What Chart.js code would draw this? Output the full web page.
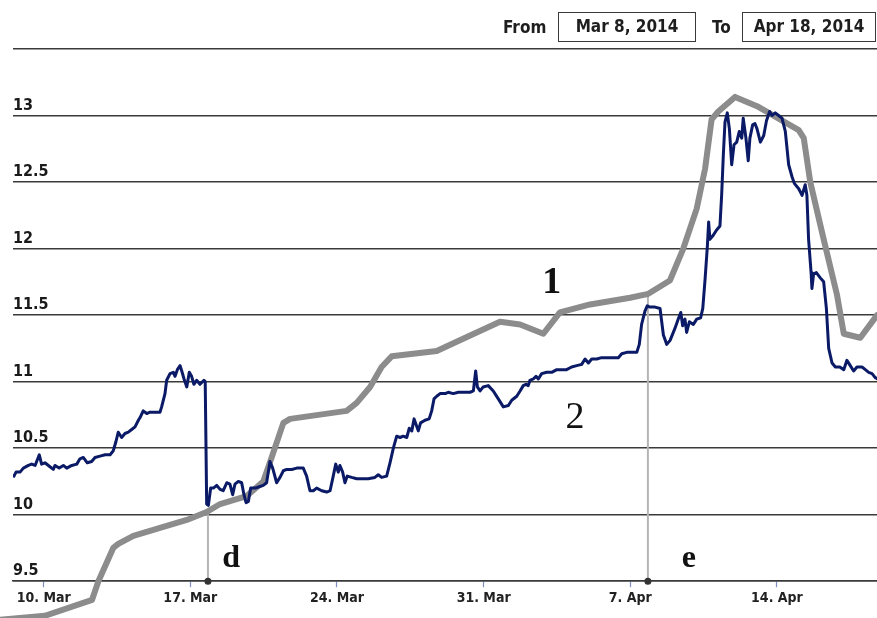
<!DOCTYPE html>
<html><head><meta charset="utf-8">
<script src="https://cdn.jsdelivr.net/npm/chart.js@4.4.1/dist/chart.umd.min.js"></script>
<style>
html,body{margin:0;padding:0;background:#fff;width:877px;height:618px;overflow:hidden}
#wrap{position:relative;width:877px;height:618px;overflow:hidden}
#c{position:absolute;left:0;top:0}
.hdr{position:absolute;font-family:'DejaVu Sans Condensed','DejaVu Sans',sans-serif;font-weight:bold;font-size:17px;color:#1e1e1e;line-height:28px;height:28px}
.box{border:1.5px solid #3a3a3a;box-sizing:border-box;text-align:center;height:30px;line-height:27px}
</style></head>
<body><div id="wrap">
<canvas id="c" width="881" height="618"></canvas>
<div class="hdr" style="left:503px;top:13px">From</div>
<div class="hdr box" style="left:558px;top:12px;width:138px">Mar 8, 2014</div>
<div class="hdr" style="left:712px;top:13px">To</div>
<div class="hdr box" style="left:742px;top:12px;width:134px">Apr 18, 2014</div>
</div>
<script>
// x values are days counted from 1 March 2014 (31 = 31 Mar, 38 = 7 Apr)
const tickDays = [10, 17, 24, 31, 38, 45];
const tickLabels = ['10. Mar', '17. Mar', '24. Mar', '31. Mar', '7. Apr', '14. Apr'];

const series2Days = [
  8.55,8.68,8.87,9.03,9.27,9.43,9.59,9.79,9.90,10.06,
  10.30,10.46,10.54,10.74,10.94,11.10,11.34,11.58,11.73,11.89,
  12.08,12.29,12.45,12.69,12.93,13.17,13.32,13.45,13.56,13.72,
  13.88,14.04,14.20,14.36,14.52,14.60,14.75,14.92,15.07,15.23,
  15.55,15.63,15.79,15.87,16.03,16.19,16.27,16.38,16.51,16.59,
  16.70,16.83,16.95,17.06,17.17,17.30,17.46,17.65,17.71,17.78,
  17.86,17.97,18.10,18.26,18.42,18.57,18.74,18.89,19.02,19.13,
  19.29,19.45,19.56,19.66,19.77,19.88,20.09,20.29,20.48,20.64,
  20.80,20.93,21.12,21.28,21.44,21.60,21.84,22.08,22.23,22.39,
  22.55,22.71,22.87,23.03,23.27,23.51,23.67,23.82,23.94,24.06,
  24.14,24.27,24.38,24.49,24.70,24.94,25.18,25.49,25.81,25.97,
  26.13,26.37,26.53,26.69,26.85,27.01,27.16,27.33,27.45,27.57,
  27.68,27.77,27.88,27.99,28.20,28.40,28.52,28.63,28.76,28.92,
  29.16,29.31,29.55,29.79,30.03,30.35,30.51,30.62,30.70,30.83,
  30.98,31.22,31.46,31.70,31.94,32.18,32.34,32.58,32.74,32.89,
  33.02,33.13,33.21,33.37,33.50,33.61,33.77,34.01,34.25,34.49,
  34.73,34.96,35.20,35.44,35.68,35.84,36.00,36.16,36.40,36.63,
  36.87,37.19,37.43,37.59,37.83,38.07,38.31,38.43,38.54,38.70,
  38.81,38.94,39.18,39.42,39.58,39.74,39.90,40.13,40.29,40.41,
  40.50,40.61,40.69,40.82,41.01,41.17,41.36,41.46,41.57,41.68,
  41.74,41.80,41.96,42.12,42.28,42.36,42.44,42.52,42.63,42.73,
  42.84,42.95,43.08,43.20,43.32,43.39,43.52,43.63,43.71,43.84,
  43.95,44.05,44.21,44.37,44.50,44.65,44.76,44.92,45.08,45.24,
  45.40,45.56,45.72,45.83,46.04,46.20,46.35,46.43,46.51,46.63,
  46.67,46.75,46.88,47.07,47.23,47.36,47.47,47.63,47.79,48.00,
  48.19,48.34,48.50,48.66,48.82,49.06,49.22,49.38,49.54,49.69,
  49.82
];
const series2Values = [
  10.28,10.32,10.32,10.35,10.37,10.38,10.37,10.45,10.38,10.39,
  10.36,10.34,10.37,10.35,10.37,10.35,10.37,10.38,10.42,10.43,
  10.39,10.40,10.43,10.44,10.45,10.45,10.48,10.55,10.62,10.58,
  10.61,10.62,10.64,10.66,10.71,10.73,10.78,10.76,10.77,10.77,
  10.77,10.81,10.91,11.01,11.06,11.07,11.04,11.09,11.12,11.08,
  11.02,10.96,11.07,11.04,10.98,11.01,10.98,11.01,11.00,10.08,
  10.07,10.20,10.20,10.22,10.19,10.18,10.24,10.23,10.15,10.23,
  10.25,10.24,10.15,10.09,10.10,10.20,10.20,10.21,10.22,10.24,
  10.40,10.35,10.24,10.28,10.33,10.34,10.34,10.35,10.35,10.35,
  10.29,10.18,10.18,10.20,10.18,10.17,10.18,10.29,10.38,10.32,
  10.37,10.32,10.24,10.29,10.28,10.27,10.27,10.27,10.28,10.30,
  10.28,10.29,10.39,10.50,10.59,10.58,10.59,10.58,10.65,10.63,
  10.72,10.68,10.63,10.69,10.71,10.72,10.78,10.87,10.89,10.91,
  10.91,10.92,10.91,10.92,10.92,10.92,10.93,11.08,10.96,10.93,
  10.96,10.97,10.93,10.87,10.81,10.82,10.86,10.89,10.93,10.97,
  10.98,10.97,11.01,11.02,11.04,11.02,11.06,11.07,11.07,11.09,
  11.09,11.09,11.11,11.12,11.13,11.17,11.14,11.17,11.17,11.18,
  11.18,11.18,11.18,11.21,11.22,11.22,11.22,11.28,11.43,11.53,
  11.57,11.56,11.56,11.55,11.35,11.28,11.31,11.40,11.47,11.52,
  11.42,11.47,11.37,11.45,11.43,11.47,11.48,11.55,11.77,12.02,
  12.20,12.07,12.10,12.14,12.17,12.40,12.70,12.95,13.02,12.90,
  12.63,12.78,12.80,12.88,12.83,12.98,12.83,12.66,12.83,12.93,
  12.94,12.90,12.80,12.85,12.96,13.03,13.00,13.02,13.00,12.98,
  12.88,12.63,12.54,12.49,12.45,12.40,12.48,12.40,12.07,11.82,
  11.70,11.81,11.82,11.78,11.75,11.55,11.25,11.14,11.11,11.11,
  11.09,11.16,11.12,11.08,11.11,11.11,11.09,11.07,11.06,11.03,
  11.02
];

const series1Days = [7.91,10.06,12.31,12.61,13.32,13.56,14.28,15.55,16.83,17.78,
  18.42,19.05,19.69,20.48,20.88,21.44,21.76,24.46,24.94,25.58,
  26.13,26.61,28.76,29.71,31.78,32.74,33.85,34.64,36.08,37.99,
  38.86,39.89,40.53,41.17,41.57,41.88,42.20,43.00,44.05,46.04,
  46.28,46.59,47.23,47.87,48.19,48.98,49.78];
const series1Values = [9.21,9.24,9.36,9.50,9.75,9.78,9.84,9.90,9.96,10.02,
  10.08,10.11,10.14,10.25,10.43,10.69,10.72,10.78,10.84,10.96,
  11.11,11.19,11.23,11.30,11.45,11.43,11.36,11.52,11.58,11.63,
  11.66,11.76,12.00,12.30,12.60,12.97,13.03,13.14,13.07,12.89,
  12.83,12.50,12.07,11.65,11.36,11.33,11.50];

// vertical marker lines "d" and "e": day, top value
const markerNames = ['d', 'e'];
const markerDays = [17.84, 38.84];
const markerTops = [10.02, 11.68];

// text annotations
const noteTexts = ['1', '2', 'd', 'e'];
const noteDays = [34.25, 35.36, 18.95, 40.80];
const noteValues = [11.74, 10.73, 9.67, 9.67];
const noteBold = [true, false, true, true];
const noteSizes = [38, 38, 32, 32];

const yTicks = [9.5, 10, 10.5, 11, 11.5, 12, 12.5, 13];

const zip = (xs, ys) => xs.map((x, i) => ({x: x, y: ys[i]}));

const markerSets = markerDays.map((d, i) => ({
  label: markerNames[i],
  data: [{x: d, y: 9.5}, {x: d, y: markerTops[i]}],
  borderColor: '#b4b4b4',
  borderWidth: 2,
  pointRadius: [3.5, 0],
  pointBackgroundColor: '#333',
  pointBorderWidth: 0,
  clip: false
}));

const notesPlugin = {
  id: 'notes',
  afterDatasetsDraw(chart) {
    const ctx = chart.ctx, xs = chart.scales.x, ys = chart.scales.y;
    ctx.save();
    ctx.fillStyle = '#111';
    ctx.textAlign = 'center';
    ctx.textBaseline = 'middle';
    noteTexts.forEach((t, i) => {
      ctx.font = (noteBold[i] ? 'bold ' : '') + noteSizes[i] + 'px "Liberation Serif", "DejaVu Serif", serif';
      ctx.fillText(t, xs.getPixelForValue(noteDays[i]), ys.getPixelForValue(noteValues[i]));
    });
    ctx.restore();
  }
};

new Chart(document.getElementById('c'), {
  type: 'line',
  data: {
    datasets: [
      {
        label: '2',
        data: zip(series2Days, series2Values),
        borderColor: '#0b1a66',
        borderWidth: 3,
        pointRadius: 0,
        tension: 0,
        borderJoinStyle: 'round'
      },
      {
        label: '1',
        data: zip(series1Days, series1Values),
        borderColor: '#8c8c8c',
        borderWidth: 6,
        pointRadius: 0,
        tension: 0,
        borderJoinStyle: 'round',
        borderCapStyle: 'round',
        clip: false
      },
      ...markerSets
    ]
  },
  options: {
    responsive: false,
    animation: false,
    events: [],
    layout: {padding: {left: 13, right: 0, top: 49, bottom: 8}},
    plugins: {legend: {display: false}, tooltip: {enabled: false}},
    scales: {
      x: {
        type: 'linear',
        min: 8.535,
        max: 49.776,
        afterBuildTicks: (s) => { s.ticks = tickDays.map(v => ({value: v})); },
        ticks: {
          autoSkip: false, maxRotation: 0, padding: 3,
          color: '#222',
          font: {family: '"DejaVu Sans Condensed", "DejaVu Sans", sans-serif', weight: 'bold', size: 14},
          callback: (v) => { const i = tickDays.indexOf(v); return i >= 0 ? tickLabels[i] : ''; }
        },
        grid: {drawOnChartArea: false, drawTicks: true, tickLength: 6, tickColor: '#7d8fc4', tickWidth: 1.2},
        border: {display: true, color: '#3a3a3a', width: 1.5}
      },
      y: {
        type: 'linear',
        min: 9.5,
        max: 13.5,
        afterBuildTicks: (s) => { s.ticks = yTicks.concat([13.5]).map(v => ({value: v})); },
        ticks: {
          mirror: true, padding: 0, labelOffset: -10,
          color: '#1a1a1a',
          font: {family: '"DejaVu Sans Condensed", "DejaVu Sans", sans-serif', weight: 'bold', size: 16},
          callback: (v) => yTicks.includes(v) ? String(v) : ''
        },
        grid: {color: '#3a3a3a', lineWidth: 1.5, drawTicks: false},
        border: {display: false}
      }
    }
  },
  plugins: [notesPlugin]
});
</script>
</body></html>
